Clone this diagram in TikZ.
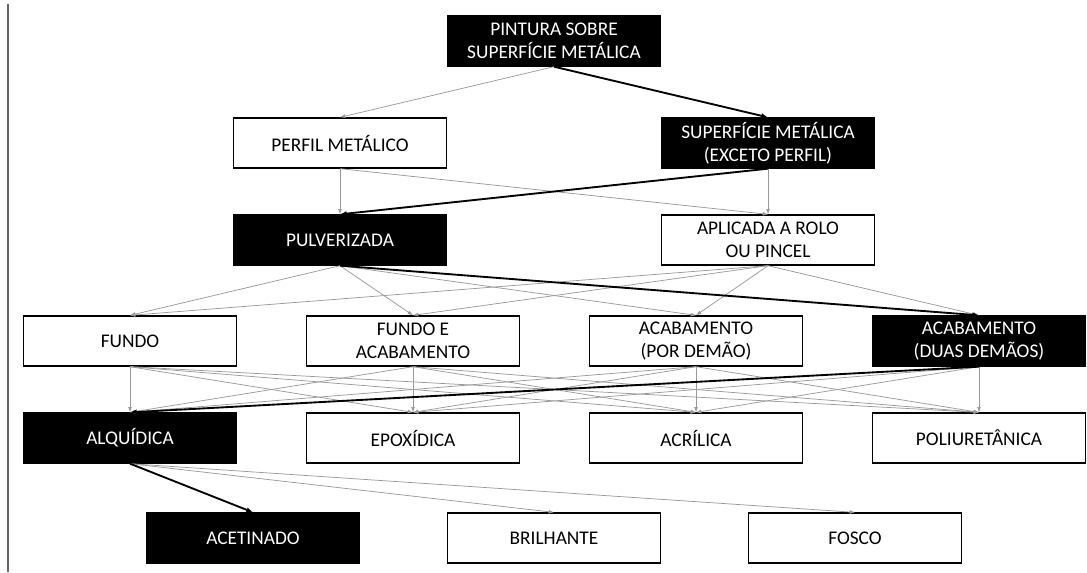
\documentclass[tikz,border=0pt]{standalone}
\usepackage{fontspec}
\setmainfont{Carlito}
\usetikzlibrary{arrows.meta}
\begin{document}
\begin{tikzpicture}[x=0.75pt,y=-0.75pt,
  box/.style={draw=black, line width=1pt, minimum width=159.75pt, minimum height=37.5pt, align=center, inner sep=0pt, font=\fontsize{14.5}{17}\selectfont, fill=white, text=black},
  dark/.style={box, fill=black, text=white},
  thinarrow/.style={draw=gray!80, line width=0.55pt, -{Latex[length=4pt,width=3pt]}},
  boldarrow/.style={draw=black, line width=1.4pt, -{Latex[length=5pt,width=4pt]}}]
\useasboundingbox (0,0) rectangle (1087,572);
\draw[line width=0.8pt, gray!80!black] (8,4) -- (8,572);
% nodes
\node[dark] (pin) at (554,41) {PINTURA SOBRE\\SUPERFÍCIE METÁLICA};
\node[box]  (per) at (340,143) {PERFIL METÁLICO};
\node[dark] (sup) at (768,143) {SUPERFÍCIE METÁLICA\\(EXCETO PERFIL)};
\node[dark] (pul) at (340,240) {PULVERIZADA};
\node[box]  (apl) at (768,240) {APLICADA A ROLO\\OU PINCEL};
\node[box]  (fun) at (130,341) {FUNDO};
\node[box]  (fua) at (413,341) {FUNDO E\\ACABAMENTO};
\node[box]  (por) at (696,341) {ACABAMENTO\\(POR DEMÃO)};
\node[dark] (dua) at (979,341) {ACABAMENTO\\(DUAS DEMÃOS)};
\node[dark] (alq) at (130,438) {ALQUÍDICA};
\node[box]  (epo) at (413,438) {EPOXÍDICA};
\node[box]  (acr) at (696,438) {ACRÍLICA};
\node[box]  (pol) at (979,438) {POLIURETÂNICA};
\node[dark] (ace) at (253,538) {ACETINADO};
\node[box]  (bri) at (554,538) {BRILHANTE};
\node[box]  (fos) at (855,538) {FOSCO};
% thin connectors
\draw[thinarrow] (pin.south) -- (per.north);
\draw[thinarrow] (per.south) -- (pul.north);
\draw[thinarrow] (per.south) -- (apl.north);
\draw[thinarrow] (sup.south) -- (apl.north);
\foreach \t in {fun,fua,por} \draw[thinarrow] (pul.south) -- (\t.north);
\foreach \t in {fun,fua,por,dua} \draw[thinarrow] (apl.south) -- (\t.north);
\foreach \s in {fun,fua,por} \foreach \t in {alq,epo,acr,pol} \draw[thinarrow] (\s.south) -- (\t.north);
\foreach \t in {epo,acr,pol} \draw[thinarrow] (dua.south) -- (\t.north);
\draw[thinarrow] (alq.south) -- (bri.north);
\draw[thinarrow] (alq.south) -- (fos.north);
% bold path
\draw[boldarrow] (pin.south) -- (sup.north);
\draw[boldarrow] (sup.south) -- (pul.north);
\draw[boldarrow] (pul.south) -- (dua.north);
\draw[boldarrow] (dua.south) -- (alq.north);
\draw[boldarrow] (alq.south) -- (ace.north);
\end{tikzpicture}
\end{document}
